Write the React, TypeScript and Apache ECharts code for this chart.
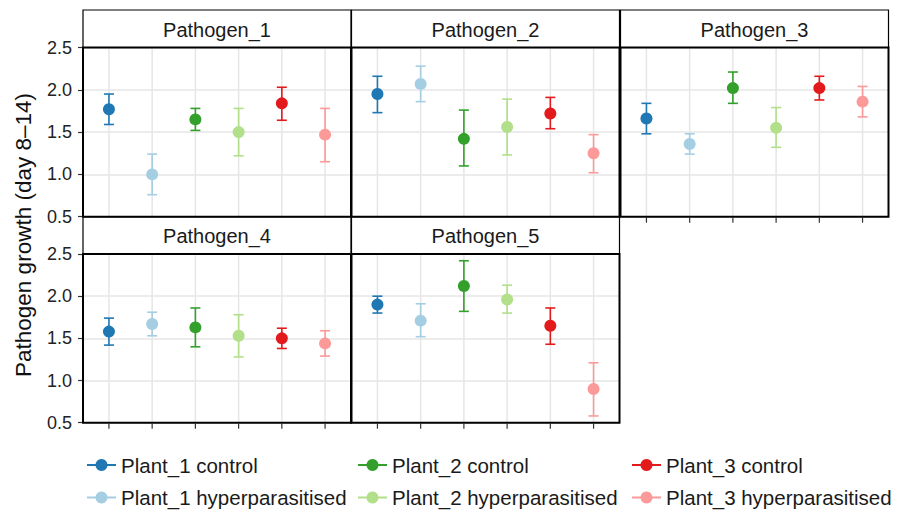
import React, { useEffect, useRef } from "react";
import * as echarts from "echarts";

const panels = ["Pathogen_1", "Pathogen_2", "Pathogen_3", "Pathogen_4", "Pathogen_5"];
const groups = [
  "Plant_1 control",
  "Plant_1 hyperparasitised",
  "Plant_2 control",
  "Plant_2 hyperparasitised",
  "Plant_3 control",
  "Plant_3 hyperparasitised",
];
const colors = ["#1F78B4", "#A6CEE3", "#33A02C", "#B2DF8A", "#E31A1C", "#FB9A99"];
const yTicks = [0.5, 1.0, 1.5, 2.0, 2.5];
const yTitle = "Pathogen growth (day 8–14)";

// per panel, values in group order
const means = [
  [1.77, 1.0, 1.65, 1.5, 1.84, 1.47],
  [1.95, 2.07, 1.42, 1.56, 1.72, 1.25],
  [1.66, 1.36, 2.02, 1.55, 2.02, 1.86],
  [1.58, 1.67, 1.63, 1.53, 1.5, 1.44],
  [1.9, 1.71, 2.12, 1.96, 1.65, 0.9],
];
const lower = [
  [1.59, 0.76, 1.52, 1.22, 1.64, 1.15],
  [1.73, 1.86, 1.1, 1.23, 1.54, 1.02],
  [1.48, 1.24, 1.84, 1.32, 1.88, 1.68],
  [1.42, 1.53, 1.4, 1.28, 1.38, 1.29],
  [1.8, 1.52, 1.82, 1.8, 1.43, 0.58],
];
const upper = [
  [1.95, 1.24, 1.78, 1.78, 2.03, 1.78],
  [2.16, 2.28, 1.76, 1.89, 1.91, 1.47],
  [1.84, 1.48, 2.21, 1.79, 2.16, 2.04],
  [1.74, 1.81, 1.86, 1.78, 1.62, 1.59],
  [2.0, 1.91, 2.42, 2.13, 1.86, 1.21],
];

const FONT = "'Liberation Sans', Arial, Helvetica, sans-serif";

export default function App() {
  const ref = useRef<HTMLDivElement>(null);
  useEffect(() => {
    if (!ref.current) return;
    const chart = echarts.init(ref.current, undefined, { renderer: "svg" });

    const colLeft = [83, 351.5, 620.5];
    const panelW = 268;
    const stripTop = [10, 216.7];
    const plotTop = [47.5, 254];
    const plotH = [169.2, 168.7];
    const yMin = yTicks[0];
    const yMax = yTicks[yTicks.length - 1];
    const xs = groups.map((_, i) => i + 1);

    const grids: any[] = [];
    const xAxes: any[] = [];
    const yAxes: any[] = [];
    const series: any[] = [];
    const graphics: any[] = [];

    panels.forEach((name, p) => {
      const col = p % 3;
      const row = Math.floor(p / 3);
      const left = colLeft[col];
      const top = plotTop[row];
      const h = plotH[row];
      const showBottomTicks = p >= 2;
      grids.push({ left, top, width: panelW, height: h, containLabel: false });
      xAxes.push({
        gridIndex: p,
        type: "value",
        min: 0.4,
        max: 6.6,
        show: false,
      });
      yAxes.push({
        gridIndex: p,
        type: "value",
        min: yMin,
        max: yMax,
        interval: 0.5,
        axisLine: { show: false },
        axisTick: { show: col === 0, length: 5, lineStyle: { color: "#333", width: 1.2 } },
        axisLabel: {
          show: col === 0,
          margin: 11,
          fontSize: 18,
          color: "#222",
          fontFamily: FONT,
          formatter: (v: number) => v.toFixed(1),
        },
        splitLine: { show: true, lineStyle: { color: "#e6e6e6", width: 1.5 } },
      });

      // vertical grid lines + bottom ticks
      series.push({
        type: "custom",
        name: "grid-" + p,
        xAxisIndex: p,
        yAxisIndex: p,
        silent: true,
        z: 1,
        data: xs.map((x) => [x]),
        encode: { x: 0 },
        renderItem: (params: any, api: any) => {
          const x = api.value(0);
          const t = api.coord([x, yMax]);
          const b = api.coord([x, yMin]);
          const children: any[] = [
            {
              type: "line",
              shape: { x1: t[0], y1: t[1], x2: b[0], y2: b[1] },
              style: { stroke: "#e6e6e6", lineWidth: 1.5 },
            },
          ];
          if (showBottomTicks) {
            children.push({
              type: "line",
              shape: { x1: b[0], y1: b[1] + 1, x2: b[0], y2: b[1] + 6 },
              style: { stroke: "#333", lineWidth: 1.2 },
            });
          }
          return { type: "group", children };
        },
      });

      // error bars
      series.push({
        type: "custom",
        name: "err-" + p,
        xAxisIndex: p,
        yAxisIndex: p,
        silent: true,
        z: 2,
        data: groups.map((_, i) => [i + 1, lower[p][i], upper[p][i], i]),
        encode: { x: 0, y: [1, 2] },
        renderItem: (params: any, api: any) => {
          const x = api.value(0);
          const lo = api.value(1);
          const hi = api.value(2);
          const gi = api.value(3);
          const a = api.coord([x, hi]);
          const b = api.coord([x, lo]);
          const c = colors[gi];
          const hw = 5;
          const st = { stroke: c, lineWidth: 1.6 };
          return {
            type: "group",
            children: [
              { type: "line", shape: { x1: a[0], y1: a[1], x2: b[0], y2: b[1] }, style: st },
              { type: "line", shape: { x1: a[0] - hw, y1: a[1], x2: a[0] + hw, y2: a[1] }, style: st },
              { type: "line", shape: { x1: b[0] - hw, y1: b[1], x2: b[0] + hw, y2: b[1] }, style: st },
            ],
          };
        },
      });

      // points
      groups.forEach((g, i) => {
        series.push({
          type: "scatter",
          name: g,
          xAxisIndex: p,
          yAxisIndex: p,
          data: [[i + 1, means[p][i]]],
          symbol: "circle",
          symbolSize: 12,
          itemStyle: { color: colors[i], opacity: 1 },
          silent: true,
          z: 3,
        });
      });

      // strip
      const sh = top - stripTop[row];
      graphics.push({
        type: "rect",
        shape: { x: left, y: stripTop[row], width: panelW, height: sh },
        style: { fill: "#fff", stroke: "#000", lineWidth: 1.2 },
        z: 50,
      });
      graphics.push({
        type: "text",
        x: left + panelW / 2,
        y: stripTop[row] + sh / 2 + 1,
        style: {
          text: name,
          fontSize: 20,
          fontFamily: FONT,
          fill: "#1a1a1a",
          textAlign: "center",
          verticalAlign: "middle",
        },
        z: 51,
      });
      // panel border
      graphics.push({
        type: "rect",
        shape: { x: left, y: top, width: panelW, height: h },
        style: { fill: "none", stroke: "#000", lineWidth: 2 },
        z: 100,
      });
    });

    graphics.push({
      type: "text",
      x: 23,
      y: 235,
      rotation: Math.PI / 2,
      style: {
        text: yTitle,
        fontSize: 22.5,
        fontFamily: FONT,
        fill: "#111",
        textAlign: "center",
        verticalAlign: "middle",
      },
    });

    const icon = "path://M0,5H29V7H0Z M14.5,0A6,6 0 1,1 14.49,0Z";
    const legendLefts = [87, 358, 632];
    const legendTops = [453, 485.5];
    const legends = groups.map((g, i) => ({
      orient: "horizontal",
      left: legendLefts[Math.floor(i / 2)],
      top: legendTops[i % 2],
      padding: 0,
      itemWidth: 29,
      itemHeight: 12,
      icon,
      selectedMode: false,
      data: [g],
      textStyle: { fontSize: 20.5, color: "#1a1a1a", fontFamily: FONT, lineHeight: 24 },
    }));

    chart.setOption({
      animation: false,
      backgroundColor: "#fff",
      grid: grids,
      xAxis: xAxes,
      yAxis: yAxes,
      series,
      legend: legends,
      graphic: { elements: graphics },
    });
    return () => chart.dispose();
  }, []);
  return (
    <div
      ref={ref}
      style={{ position: "fixed", left: 0, top: 0, width: 909, height: 511 }}
    />
  );
}
